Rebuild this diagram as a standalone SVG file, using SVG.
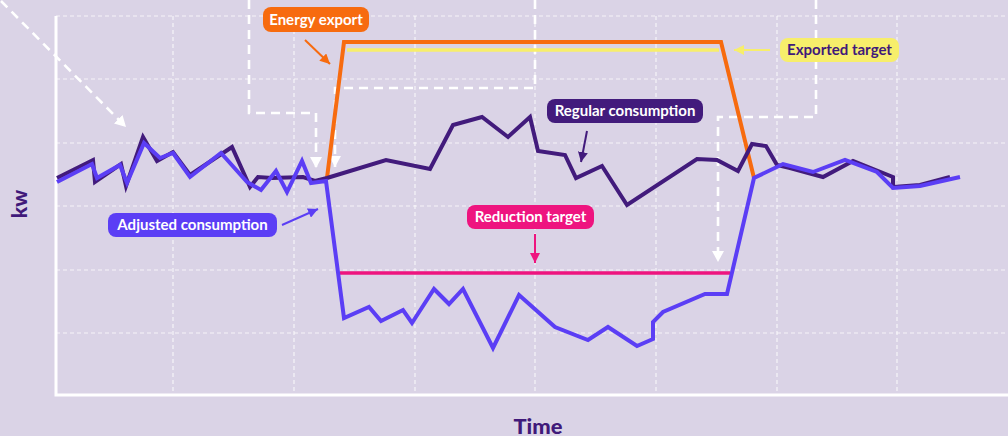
<svg xmlns="http://www.w3.org/2000/svg" width="1008" height="436" viewBox="0 0 1008 436">
<style>
.grid{stroke:#ffffff;stroke-opacity:0.75;stroke-width:1.2;stroke-dasharray:4 3;fill:none}
.guide{stroke:#ffffff;stroke-width:2.6;stroke-dasharray:9 6;fill:none}
.axis{stroke:#ffffff;stroke-width:3;fill:none}
.data{fill:none;stroke-width:4;stroke-linejoin:miter;stroke-linecap:butt}
.lbl{font-family:Lato,"Open Sans",sans-serif;font-weight:700;font-size:15px;text-anchor:middle}
.ptr{stroke-width:2;fill:none}
.ax{font-family:Lato,"Open Sans",sans-serif;font-weight:900;fill:#40197a}
</style>
<defs>
<marker id="wh" markerUnits="userSpaceOnUse" markerWidth="12" markerHeight="12" refX="11" refY="6" orient="auto"><path d="M0,0 L11,6 L0,12 z" fill="#ffffff"/></marker>
<marker id="ho" markerUnits="userSpaceOnUse" markerWidth="10" markerHeight="10" refX="10" refY="5" orient="auto"><path d="M0,0 L10,5 L0,10 z" fill="#f76b0f"/></marker>
<marker id="hy" markerUnits="userSpaceOnUse" markerWidth="10" markerHeight="10" refX="10" refY="5" orient="auto"><path d="M0,0 L10,5 L0,10 z" fill="#f7ee6b"/></marker>
<marker id="hd" markerUnits="userSpaceOnUse" markerWidth="10" markerHeight="10" refX="10" refY="5" orient="auto"><path d="M0,0 L10,5 L0,10 z" fill="#421b7c"/></marker>
<marker id="hp" markerUnits="userSpaceOnUse" markerWidth="10" markerHeight="10" refX="10" refY="5" orient="auto"><path d="M0,0 L10,5 L0,10 z" fill="#5b3ef5"/></marker>
<marker id="hk" markerUnits="userSpaceOnUse" markerWidth="10" markerHeight="10" refX="10" refY="5" orient="auto"><path d="M0,0 L10,5 L0,10 z" fill="#ee147f"/></marker>
</defs>
<rect x="0" y="0" width="1008" height="436" fill="#dad3e6"/>
<g id="grid">
<path class="grid" d="M56,16 H1008 M56,79 H1008 M56,143 H1008 M56,206 H1008 M56,270 H1008 M56,333 H1008"/>
<path class="grid" d="M173,16 V393 M294,16 V393 M415,16 V393 M535,16 V393 M656,16 V393 M777,16 V393 M897,16 V393"/>
</g>
<g id="axes">
<path class="axis" d="M56,16 V395 H1008"/>
<text class="ax" font-size="21" transform="translate(27,204) rotate(-90)" text-anchor="middle">kw</text>
<text class="ax" font-size="21" x="538" y="434" text-anchor="middle" textLength="49" lengthAdjust="spacingAndGlyphs">Time</text>
</g>
<g id="connectors">
<path class="guide" d="M1,1 L126,127" marker-end="url(#wh)"/>
<path class="guide" d="M249,0 V113 H316 V168" marker-end="url(#wh)"/>
<path class="guide" d="M535,0 V88 H335 V167" marker-end="url(#wh)"/>
<path class="guide" d="M816,0 V117 H718 V262" marker-end="url(#wh)"/>
<path class="ptr" stroke="#f76b0f" d="M305,40 L330,64" marker-end="url(#ho)"/>
<path class="ptr" stroke="#f7ee6b" d="M770,50 L734,50" marker-end="url(#hy)"/>
<path class="ptr" stroke="#421b7c" d="M587,131 L581,162" marker-end="url(#hd)"/>
<path class="ptr" stroke="#5b3ef5" d="M282,225 L318,209" marker-end="url(#hp)"/>
<path class="ptr" stroke="#ee147f" d="M535,234 L535,263" marker-end="url(#hk)"/>
</g>
<g id="exported-target-line">
<path d="M347,50 H719" stroke="#f7ee6b" stroke-width="3.5" fill="none"/>
</g>
<g id="energy-export-line">
<path class="data" stroke="#f76b0f" stroke-width="3.5" d="M327,178 L344,42 H721 L754,178"/>
</g>
<g id="reduction-target-line">
<path d="M340,273 H730" stroke="#ee147f" stroke-width="3.5" fill="none"/>
</g>
<g id="regular-consumption-line">
<path class="data" stroke="#421b7c" d="M57,178 L93,160 L95,182 L121,164 L126,186 L143,137 L157,161 L173,152 L190,175 L232,147 L250,187 L258,177 L272,178 L303,177 L315,181 L327,178 L386,160 L430,169 L453,125 L482,117 L508,137 L530,117 L538,151 L565,155 L576,178 L602,166 L627,205 L697,159 L717,160 L738,171 L752,144 L766,146 L777,165 L790,168 L823,177 L853,161 L893,177 L893,187 L920,185 L950,177"/>
</g>
<g id="adjusted-consumption-line">
<path class="data" stroke="#5b3ef5" d="M57,182 L92,164 L97,178 L120,165 L127,183 L144,143 L160,158 L173,153 L190,177 L221,153 L247,182 L261,190 L276,171 L287,192 L302,161 L311,183 L326,181 L344,318 L369,307 L381,321 L403,310 L412,323 L434,289 L449,304 L463,289 L493,348 L519,295 L555,327 L588,340 L608,327 L637,346 L653,339 L653,322 L663,312 L705,294 L727,294 L754,178 L783,164 L813,172 L845,160 L877,172 L893,188 L920,186 L960,177"/>
</g>
<g id="label-energy-export">
<rect x="263" y="7" width="106" height="25" rx="8" fill="#f76b0f"/>
<text class="lbl" x="316" y="25" fill="#ffffff">Energy export</text>
</g>
<g id="label-exported-target">
<rect x="780" y="38" width="119" height="24" rx="8" fill="#f7ee6b"/>
<text class="lbl" x="839.5" y="55" fill="#40197a">Exported target</text>
</g>
<g id="label-regular-consumption">
<rect x="547" y="99" width="156" height="24" rx="8" fill="#421b7c"/>
<text class="lbl" x="625" y="116" fill="#ffffff">Regular consumption</text>
</g>
<g id="label-adjusted-consumption">
<rect x="108" y="213" width="169" height="24" rx="8" fill="#5b3ef5"/>
<text class="lbl" x="192.5" y="230" fill="#ffffff">Adjusted consumption</text>
</g>
<g id="label-reduction-target">
<rect x="467" y="205" width="127" height="24" rx="8" fill="#ee147f"/>
<text class="lbl" x="530.5" y="222" fill="#ffffff">Reduction target</text>
</g>
</svg>
